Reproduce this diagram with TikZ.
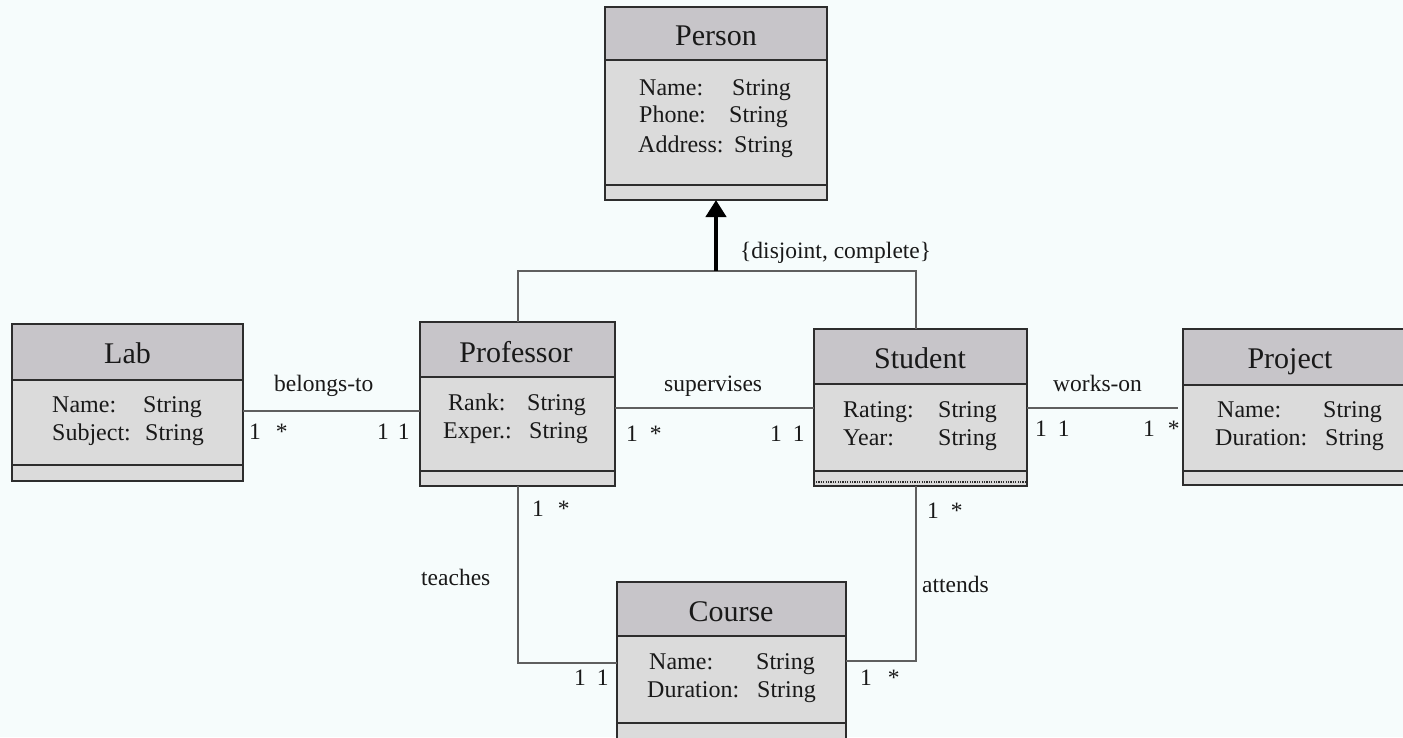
\documentclass[tikz,border=0pt]{standalone}
\usepackage{fontspec}
\setmainfont{Liberation Serif}
\usetikzlibrary{arrows.meta}
\definecolor{bgc}{RGB}{246,252,252}
\definecolor{headc}{RGB}{199,197,201}
\definecolor{attrc}{RGB}{219,219,219}
\definecolor{framec}{RGB}{45,45,45}
\definecolor{connc}{RGB}{95,95,95}
\definecolor{txtc}{RGB}{25,25,25}
\tikzset{
  frame/.style={draw=framec, line width=2pt},
  conn/.style={draw=connc, line width=2pt},
  genarrow/.style={draw=black, line width=4.5pt, -{Triangle[length=17pt,width=20pt]}},
  titletext/.style={inner sep=0pt, text=txtc, font=\fontsize{30}{32}\selectfont, anchor=base},
  attr/.style={inner sep=0pt, text=txtc, font=\fontsize{24}{26}\selectfont, anchor=base west},
  lbl/.style={inner sep=0pt, text=txtc, font=\fontsize{23.5}{25}\selectfont, anchor=base west},
}
\newcommand\umlclass[7]{%
  \fill[attrc] (#2,#3) rectangle (#4,#7);
  \fill[headc] (#2,#3) rectangle (#4,#5);
  \draw[frame] (#2,#5) -- (#4,#5);
  \draw[frame] (#2,#6) -- (#4,#6);
  \pgfmathsetmacro\bw{#4-#2}\pgfmathsetmacro\bh{#7-#3}%
  \node[frame, minimum width=\bw pt, minimum height=\bh pt, anchor=north west, inner sep=0pt, outer sep=0pt] (#1) at (#2,#3) {};
}
\begin{document}
\begin{tikzpicture}[x=1pt,y=-1pt]
\useasboundingbox (0,0) rectangle (1403,737);
\fill[bgc] (0,0) rectangle (1403,737);
\clip (0,0) rectangle (1403,737);

% classes
\umlclass{person}{605}{7}{827}{60}{185}{200}
\umlclass{lab}{12}{324}{243}{380}{465}{481}
\umlclass{prof}{420}{322}{615}{377}{471}{486}
\umlclass{stud}{814}{329}{1027}{384}{471}{486}
\umlclass{proj}{1183}{329}{1412}{385}{471}{485}
\umlclass{course}{617}{582}{846}{636}{723}{748}
\draw[draw=framec, line width=2.5pt, dash pattern=on 1.2pt off 1.2pt] (816,482) -- (1025,482);

% titles
\node[titletext] (person-t) at (716,45) {Person};
\node[titletext] (lab-t) at (127.5,363) {Lab};
\node[titletext] (prof-t) at (516,362) {Professor};
\node[titletext] (stud-t) at (920,368) {Student};
\node[titletext] (proj-t) at (1290,368) {Project};
\node[titletext] (course-t) at (731,621) {Course};

% attributes
\node[attr] (person-a1) at (639,95) {Name:};
\node[attr] (person-s1) at (732,95) {String};
\node[attr] (person-a2) at (639,122) {Phone:};
\node[attr] (person-s2) at (729,122) {String};
\node[attr] (person-a3) at (638,152) {Address:};
\node[attr] (person-s3) at (734,152) {String};

\node[attr] (lab-a1) at (52,412) {Name:};
\node[attr] (lab-s1) at (143,412) {String};
\node[attr] (lab-a2) at (52,440) {Subject:};
\node[attr] (lab-s2) at (145,440) {String};

\node[attr] (prof-a1) at (448,410) {Rank:};
\node[attr] (prof-s1) at (527,410) {String};
\node[attr] (prof-a2) at (443,438) {Exper.:};
\node[attr] (prof-s2) at (529,438) {String};

\node[attr] (stud-a1) at (843,417) {Rating:};
\node[attr] (stud-s1) at (938,417) {String};
\node[attr] (stud-a2) at (843,445) {Year:};
\node[attr] (stud-s2) at (938,445) {String};

\node[attr] (proj-a1) at (1217,417) {Name:};
\node[attr] (proj-s1) at (1323,417) {String};
\node[attr] (proj-a2) at (1215,445) {Duration:};
\node[attr] (proj-s2) at (1325,445) {String};

\node[attr] (course-a1) at (649,669) {Name:};
\node[attr] (course-s1) at (756,669) {String};
\node[attr] (course-a2) at (647,697) {Duration:};
\node[attr] (course-s2) at (757,697) {String};

% connectors
\draw[conn] (lab.east |- 0,411) -- (prof.west |- 0,411);
\draw[conn] (prof.east |- 0,408) -- (stud.west |- 0,408);
\draw[conn, shorten >=5pt] (stud.east |- 0,408) -- (proj.west |- 0,408);
\draw[conn] (prof.south) |- (course.west |- 0,663);
\draw[conn] (stud.south -| 916,0) |- (course.east |- 0,661);
\coordinate (gj) at (716,271);
\draw[conn] (prof.north) |- (gj) -| (stud.north -| 916,0);
\draw[genarrow] (gj) -- (person.south);

% association labels
\node[lbl] (l-belongs) at (274,391) {belongs-to};
\node[lbl] (l-superv) at (664,391) {supervises};
\node[lbl] (l-works) at (1053,391) {works-on};
\node[lbl] (l-teaches) at (421,585) {teaches};
\node[lbl] (l-attends) at (922,592) {attends};
\node[lbl] (l-gen) at (740,258) {\{disjoint, complete\}};

% multiplicities
\node[lbl] (m1) at (249,439) {1\hspace{15pt}*};
\node[lbl] (m2) at (377,439) {1\hspace{9pt}1};
\node[lbl] (m3) at (626,441) {1\hspace{12pt}*};
\node[lbl] (m4) at (770,441) {1\hspace{11pt}1};
\node[lbl] (m5) at (1035,436) {1\hspace{11pt}1};
\node[lbl] (m6) at (1143,436) {1\hspace{13pt}*};
\node[lbl] (m7) at (532,516) {1\hspace{14pt}*};
\node[lbl] (m8) at (927,518) {1\hspace{12pt}*};
\node[lbl] (m9) at (574,685) {1\hspace{11pt}1};
\node[lbl] (m10) at (860,685) {1\hspace{16pt}*};
\end{tikzpicture}
\end{document}
